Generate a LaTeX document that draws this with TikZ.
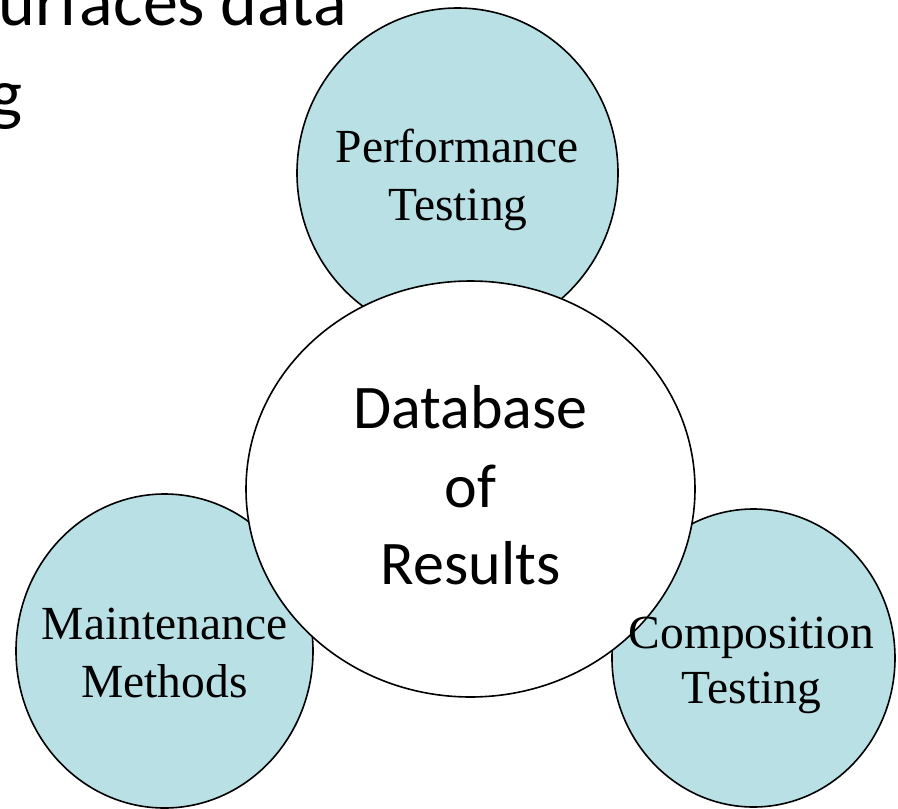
\documentclass[tikz,border=0pt]{standalone}
\usepackage{fontspec}
\setmainfont{Liberation Serif}
\newfontfamily\calibrifont{Carlito}
\usetikzlibrary{shapes.geometric}
\definecolor{bubble}{RGB}{185,224,228}
\tikzset{
  blob/.style={ellipse, draw=black, line width=1.6pt, fill=bubble, inner sep=0pt},
  hub/.style={ellipse, draw=black, line width=1.6pt, fill=white, inner sep=0pt},
  serifline/.style={anchor=base, inner sep=0pt, font=\fontsize{47.5}{57}\selectfont},
  hubline/.style={anchor=base, inner sep=0pt, font=\calibrifont\fontsize{62}{75}\selectfont},
  slideline/.style={inner sep=0pt, font=\calibrifont\fontsize{70}{90}\selectfont},
}
\begin{document}
\begin{tikzpicture}[x=1pt, y=-1pt]
  \useasboundingbox (0,0) rectangle (898,809);
  \clip (0,0) rectangle (898,809);
  \fill[white] (0,0) rectangle (898,809);

  % leftover slide text running off the left edge
  \node[slideline, anchor=base east] (slide1) at (347,25) {urfaces data};
  \node[slideline, anchor=base west] (slide2) at (-11,117) {g};

  % outer bubbles
  \node[blob, minimum width=321pt, minimum height=330pt] (perf) at (457.5,173) {};
  \node[blob, minimum width=297pt, minimum height=314pt] (maint) at (164.5,651) {};
  \node[blob, minimum width=283pt, minimum height=298pt] (comp) at (753.5,658) {};

  % central bubble
  \node[hub, minimum width=449pt, minimum height=416pt] (db) at (470.5,489) {};

  % labels
  \node[serifline] (perf1) at (457,162) {Performance};
  \node[serifline] (perf2) at (458,220) {Testing};
  \node[serifline] (maint1) at (164.5,639) {Maintenance};
  \node[serifline] (maint2) at (164.5,697) {Methods};
  \node[serifline] (comp1) at (751.5,648) {Composition};
  \node[serifline] (comp2) at (751.5,703) {Testing};
  \node[hubline] (db1) at (470.5,428) {Database};
  \node[hubline] (db2) at (470.5,507) {of};
  \node[hubline] (db3) at (470.5,584) {Results};
\end{tikzpicture}
\end{document}
